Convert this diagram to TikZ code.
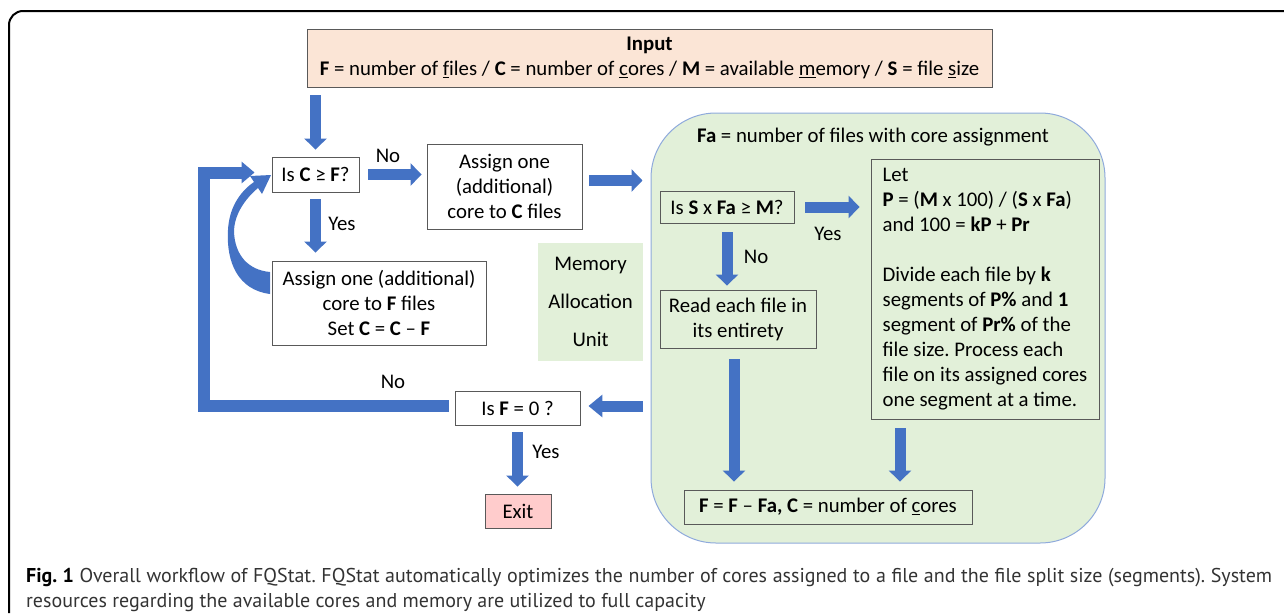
\documentclass[tikz,border=0pt]{standalone}
\usepackage{fontspec}
\setmainfont{Carlito}
\newfontfamily\capfont{PT Sans}
\usetikzlibrary{arrows.meta}
\definecolor{ablue}{HTML}{4472C4}
\definecolor{peach}{HTML}{FBE5D6}
\definecolor{lgreen}{HTML}{E2F0D9}
\definecolor{pinkx}{HTML}{FFCCCC}
\definecolor{gborder}{HTML}{8FAADC}
\definecolor{bgray}{HTML}{595959}
\definecolor{capgray}{HTML}{333333}
\frenchspacing
\begin{document}
\begin{tikzpicture}[x=1pt,y=-1pt,
  txt/.style={font=\fontsize{20.8}{25}\selectfont, inner sep=0pt, align=center},
  box/.style={txt, draw=bgray, line width=0.9pt},
  barrow/.style={draw=ablue, line width=11pt, -{Triangle[width=22pt,length=11pt]}, shorten <=8pt, shorten >=8pt},
  lab/.style={txt}
]
\useasboundingbox (0,0) rectangle (1284,613);
% frame
\draw[line width=2pt, rounded corners=14pt] (9,613) -- (9,11) -- (1284,11);

% green region
\node[draw=gborder, line width=1pt, fill=lgreen, rounded corners=65pt, minimum width=454pt, minimum height=430pt, inner sep=0pt] (mau) at (878,328) {};
\node[txt] (fa) at (873,137) {\textbf{Fa} = number of files with core assignment};

% nodes
\node[box, fill=peach, minimum width=685pt, minimum height=58pt] (inp) at (649.5,58)
  {\textbf{Input}\\\textbf{F} = number of \underline{f}iles / \textbf{C} = number of \underline{c}ores / \textbf{M} = available \underline{m}emory / \textbf{S} = file \underline{s}ize};
\node[box, fill=white, minimum width=87pt, minimum height=35pt] (c1) at (315.5,174.5) {Is \textbf{C} ≥ \textbf{F}?};
\node[box, fill=white, minimum width=155pt, minimum height=85pt] (ac) at (504.5,186.5) {Assign one\\(additional)\\core to \textbf{C} files};
\node[box, fill=white, minimum width=214pt, minimum height=84pt] (af) at (379,303) {Assign one (additional)\\core to \textbf{F} files\\Set \textbf{C} = \textbf{C} -- \textbf{F}};
\node[txt, fill=lgreen, minimum width=105pt, minimum height=118pt, font=\fontsize{20.8}{38}\selectfont] (mem) at (590.5,302) {Memory\\Allocation\\Unit};
\node[box, minimum width=134pt, minimum height=32pt] (sx) at (727,207) {Is \textbf{S} x \textbf{Fa} ≥ \textbf{M}?};
\node[box, align=left, minimum width=228pt, minimum height=260pt] (let) at (985,289)
  {Let\\\textbf{P} = (\textbf{M} x 100) / (\textbf{S} x \textbf{Fa})\\and 100 = \textbf{kP} + \textbf{Pr}\\[25pt]Divide each file by \textbf{k}\\segments of \textbf{P\%} and \textbf{1}\\segment of \textbf{Pr\%} of the\\file size. Process each\\file on its assigned cores\\one segment at a time.};
\node[box, minimum width=156pt, minimum height=58pt] (rd) at (738,319) {Read each file in\\its entirety};
\node[box, minimum width=288pt, minimum height=34pt] (ff) at (828,507) {\textbf{F} = \textbf{F} -- \textbf{Fa, C} = number of \underline{c}ores};
\node[box, fill=white, minimum width=125pt, minimum height=34pt] (f0) at (517.5,408) {Is \textbf{F} = 0 ?};
\node[box, fill=pinkx, minimum width=66pt, minimum height=34pt] (ex) at (518,511) {Exit};

% labels
\node[lab] (l1) at (388,156) {No};
\node[lab] (l2) at (342,224) {Yes};
\node[lab] (l3) at (756,257) {No};
\node[lab] (l4) at (828,234) {Yes};
\node[lab] (l5) at (393,382) {No};
\node[lab] (l6) at (546,452) {Yes};

% arrows
\draw[barrow, shorten >=7pt] (inp.south -| c1.north) -- (c1.north);
\draw[barrow, shorten <=9pt, shorten >=5pt] (c1.east) -- (c1.east -| ac.west);
\coordinate (acr) at ([yshift=6pt]ac.east);
\draw[barrow, shorten <=7pt] (acr) -- (acr -| mau.west);
\draw[barrow, shorten <=7pt] (c1.south) -- (c1.south |- af.north);
\draw[barrow, shorten <=11pt, shorten >=11pt] (sx.east) -- (sx.east -| let.west);
\draw[barrow, shorten <=9pt, shorten >=4pt] (sx.south) -- (sx.south |- rd.north);
\coordinate (rdb) at ([xshift=-4pt]rd.south);
\draw[barrow, shorten <=11pt] (rdb) -- (rdb |- ff.north);
\coordinate (ltb) at ([xshift=-85pt]let.south);
\draw[barrow, shorten <=9pt] (ltb) -- (ltb |- ff.north);
\coordinate (fer) at ([yshift=2pt]f0.east);
\draw[barrow, -{Triangle[width=22pt,length=14pt]}] (fer -| mau.west) -- (fer);
\draw[barrow, shorten <=7pt, shorten >=7pt] (f0.south) -- (f0.south |- ex.north);
\coordinate (lc) at (204,300);
\coordinate (fw) at ([yshift=2.5pt]f0.west);
\coordinate (cw) at ([yshift=2pt]c1.west);
\draw[barrow, line width=12pt, line join=miter, -{Triangle[width=21pt,length=13pt]}, shorten <=6pt, shorten >=17pt] (fw) -| (lc) |- (cw);
% curved arrow from af back to c1
\fill[ablue] (270,294) .. controls (238,290) and (226,262) .. (228,230)
  .. controls (229,210) and (238,193) .. (254,182)
  -- (250,176) -- (271,175) -- (262,194) -- (258,188)
  .. controls (246,198) and (234,214) .. (234,232)
  .. controls (235,255) and (248,270) .. (270,272) -- cycle;

% caption
\node[anchor=base west, inner sep=0pt, font=\capfont\fontsize{20}{25}\selectfont, text=capgray] (cap1) at (26,582)
  {\makebox[1246pt][s]{\textcolor{black}{\textbf{Fig. 1}} Overall workflow of FQStat. FQStat automatically optimizes the number of cores assigned to a file and the file split size (segments). System}};
\node[anchor=base west, inner sep=0pt, font=\capfont\fontsize{20}{25}\selectfont, text=capgray] (cap2) at (26,607)
  {resources regarding the available cores and memory are utilized to full capacity};
\end{tikzpicture}
\end{document}
